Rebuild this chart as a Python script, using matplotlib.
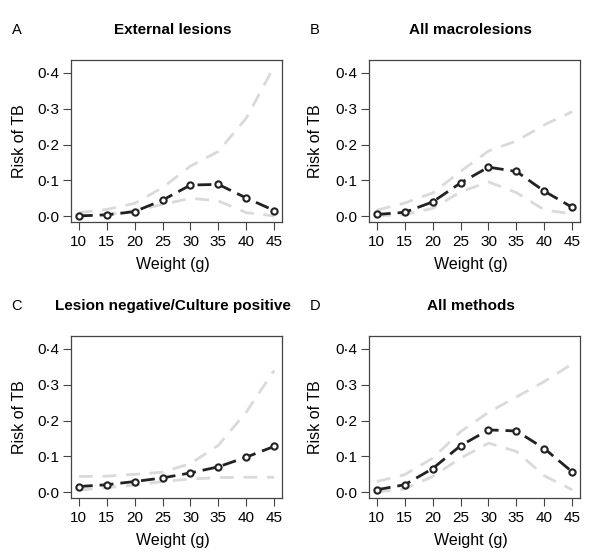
import matplotlib
matplotlib.use("Agg")
import matplotlib.pyplot as plt

plt.rcParams['font.family'] = ['Liberation Sans', 'DejaVu Sans']

weights = [10, 15, 20, 25, 30, 35, 40, 45]
y_ticks = [0.0, 0.1, 0.2, 0.3, 0.4]
y_tick_labels = ['0·0', '0·1', '0·2', '0·3', '0·4']

titles = ['External lesions', 'All macrolesions',
          'Lesion negative/Culture positive', 'All methods']
letters = ['A', 'B', 'C', 'D']

# estimated risk and confidence bounds
risk_a = [0.001, 0.004, 0.013, 0.045, 0.087, 0.089, 0.051, 0.016]
upper_a = [0.010, 0.019, 0.036, 0.080, 0.140, 0.181, 0.274, 0.418]
lower_a = [0.000, 0.005, 0.015, 0.033, 0.050, 0.043, 0.010, 0.001]

risk_b = [0.005, 0.011, 0.040, 0.093, 0.137, 0.125, 0.070, 0.025]
upper_b = [0.017, 0.037, 0.065, 0.125, 0.182, 0.210, 0.255, 0.292]
lower_b = [0.001, 0.005, 0.022, 0.068, 0.096, 0.066, 0.018, 0.006]

risk_c = [0.016, 0.021, 0.030, 0.040, 0.054, 0.071, 0.098, 0.128]
upper_c = [0.044, 0.045, 0.050, 0.056, 0.080, 0.131, 0.224, 0.340]
lower_c = [0.006, 0.013, 0.020, 0.030, 0.037, 0.041, 0.042, 0.042]

risk_d = [0.007, 0.021, 0.066, 0.130, 0.174, 0.171, 0.122, 0.057]
upper_d = [0.030, 0.049, 0.095, 0.169, 0.223, 0.266, 0.309, 0.358]
lower_d = [0.001, 0.009, 0.044, 0.095, 0.137, 0.114, 0.046, 0.007]

panels = [(risk_a, upper_a, lower_a), (risk_b, upper_b, lower_b),
          (risk_c, upper_c, lower_c), (risk_d, upper_d, lower_d)]

W, H = 600, 555
fig = plt.figure(figsize=(6, 5.55), dpi=100, facecolor='white')

# axes boxes in pixels: left, top, right, bottom
boxes = [(71, 60, 282, 222), (369, 60, 580, 222),
         (71, 336, 282, 498), (369, 336, 580, 498)]
ylab_offset = [51, 54, 51, 54]

for i, (risk, upper, lower) in enumerate(panels):
    l, t, r, b = boxes[i]
    ax = fig.add_axes([l / W, 1 - b / H, (r - l) / W, (b - t) / H])
    ax.plot(weights, upper, color='#dadada', lw=2, dashes=(5, 3.5))
    ax.plot(weights, lower, color='#dadada', lw=2, dashes=(5, 3.5))
    ax.plot(weights, risk, color='#222222', lw=2, dashes=(5, 2.5), zorder=3)
    ax.plot(weights, risk, 'o', ms=4.5, mfc='white', mec='#222222', mew=1.5,
            zorder=4)
    ax.set_xlim(8.6, 46.4)
    ax.set_ylim(-0.016, 0.436)
    ax.set_xticks(weights)
    ax.set_yticks(y_ticks)
    ax.set_yticklabels(y_tick_labels)
    ax.tick_params(labelsize=11, length=5.5, width=0.8, color='#444444')
    ax.tick_params(axis='y', pad=3)
    ax.tick_params(axis='x', pad=4)
    for s in ax.spines.values():
        s.set_color('#444444')
        s.set_linewidth(0.9)

    cx = (l + r) / 2 - 4
    fig.text(cx / W, 1 - (b + 43) / H, 'Weight (g)', ha='center',
             va='center', fontsize=11.5)
    fig.text((l - ylab_offset[i]) / W, 1 - ((t + b) / 2) / H, 'Risk of TB',
             ha='center', va='center', rotation=90, fontsize=11.5)
    fig.text(cx / W, 1 - (t - 30) / H, titles[i], ha='center', va='center',
             fontsize=11, fontweight='bold')
    fig.text((l - 54) / W, 1 - (t - 30) / H, letters[i], ha='center',
             va='center', fontsize=10.5)

fig.savefig('out.png', dpi=100, facecolor='white')
